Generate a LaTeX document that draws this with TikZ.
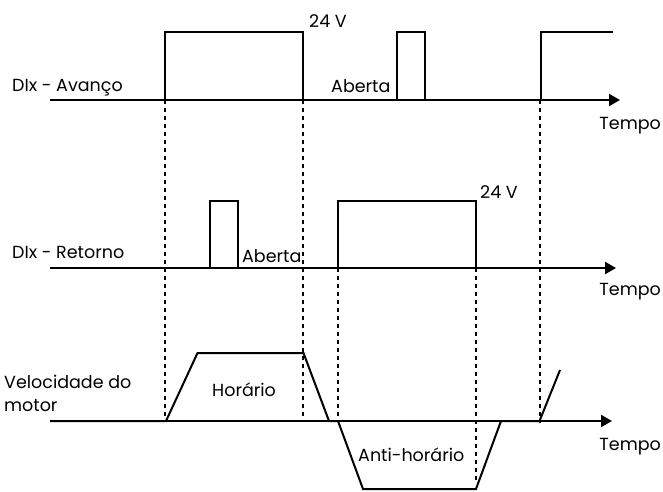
\documentclass[tikz,border=0pt]{standalone}
\usepackage{fontspec}
\setmainfont{Poppins}
\usetikzlibrary{arrows.meta}
\begin{document}
\begin{tikzpicture}[x=1pt,y=-1pt,
  axis/.style={line width=2.4pt,-{Triangle[length=11pt,width=12pt]}},
  sig/.style={line width=2pt,line join=miter},
  guide/.style={line width=1.1pt,dash pattern=on 4pt off 4pt},
  lbl/.style={font=\fontsize{17.5}{20}\selectfont,inner sep=0pt,anchor=base west},
  lble/.style={lbl,anchor=base east}]
\useasboundingbox (0,0) rectangle (663,491);
% axis coordinates
\coordinate (a1s) at (50,100);  \coordinate (a1e) at (620,100);
\coordinate (a2s) at (50,268);  \coordinate (a2e) at (616,268);
\coordinate (a3s) at (50,421);  \coordinate (a3e) at (612,421);
% guides
\coordinate (g1t) at (165,100); \coordinate (g1b) at (165,421);
\coordinate (g2t) at (303,100); \coordinate (g2b) at (303,417);
\coordinate (g3t) at (338,268); \coordinate (g3b) at (338,417);
\coordinate (g4t) at (476,268); \coordinate (g4b) at (476,482);
\coordinate (g5t) at (540,100); \coordinate (g5b) at (540,423);
\draw[guide] (g1t) -- (g1b);
\draw[guide] (g2t) -- (g2b);
\draw[guide] (g3t) -- (g3b);
\draw[guide] (g4t) -- (g4b);
\draw[guide] (g5t) -- (g5b);
% axes
\draw[axis] (a1s) -- (a1e);
\draw[axis] (a2s) -- (a2e);
\draw[axis] (a3s) -- (a3e);
% signals
\draw[sig] (a1s) -- (165,100) -- (165,32) -- (303,32) -- (303,100) -- (397,100) -- (397,32) -- (425,32) -- (425,100) -- (541,100) -- (541,32) -- (613,32);
\draw[sig] (a2s) -- (210,268) -- (210,201) -- (238,201) -- (238,268) -- (338,268) -- (338,201) -- (476,201) -- (476,268) -- (560,268);
\draw[sig] (a3s) -- (166,421) -- (197.5,353) -- (303.5,353) -- (329,421) -- (338,421) -- (363,489) -- (476,489) -- (501,421) -- (539.5,421) -- (560,370);
% labels
\node[lbl] (l1) at (12,91) {DIx - Avanço};
\node[lbl] (v1) at (309,27) {24 V};
\node[lbl] (ab1) at (331,92.5) {Aberta};
\node[lble] (t1) at (661,129) {Tempo};
\node[lbl] (l2) at (12,258.5) {DIx - Retorno};
\node[lbl] (v2) at (480,198) {24 V};
\node[lbl] (ab2) at (242,262.5) {Aberta};
\node[lble] (t2) at (661,295) {Tempo};
\node[lbl] (l3) at (4,388) {Velocidade do};
\node[lbl] (l3b) at (4,411.5) {motor};
\node[lbl] (h) at (212,396) {Horário};
\node[lbl] (ah) at (358,461) {Anti-horário};
\node[lble] (t3) at (661,450.5) {Tempo};
\end{tikzpicture}
\end{document}
